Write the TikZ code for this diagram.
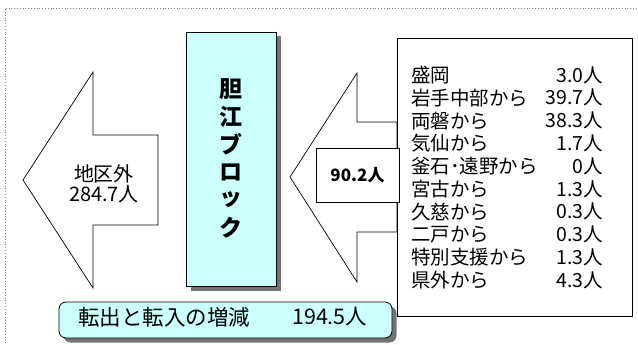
\documentclass[tikz,border=0pt]{standalone}
\usepackage{fontspec}
\newfontfamily\jp{Noto Sans CJK JP}
\definecolor{lcyan}{HTML}{CCFFFF}
\tikzset{
  outline/.style={draw=black, line width=0.7pt, fill=white, line join=miter},
  listtxt/.style={inner sep=0pt, font=\jp\fontsize{19.5}{20}\selectfont},
  bigtxt/.style={inner sep=0pt, font=\jp\fontsize{20}{21}\selectfont},
  blocktxt/.style={inner sep=0pt, font=\jp\bfseries\fontsize{23}{24}\selectfont},
  cyanbox/.style={draw=black, line width=0.8pt, fill=lcyan},
}
\begin{document}
\begin{tikzpicture}[x=1pt,y=-1pt]
\useasboundingbox (0,0) rectangle (638,345);
% dotted frame
\draw[black!50, dotted, line width=0.8pt] (5,360) -- (5,8) -- (636,8);
% left arrow
\draw[outline] (23,180) -- (93,72) -- (93,135) -- (158,135) -- (158,225) -- (93,225) -- (93,288) -- cycle;
\node[bigtxt] (chiku) at (104,174) {地区外};
\node[bigtxt] (chikuv) at (104,194) {284.7人};
% middle block
\fill[black!55] (190.5,36.5) rectangle (280.5,290.5);
\path[cyanbox] (186,32) rectangle (276,286);
\foreach \c [count=\i from 0] in {胆,江,ブ,ロ,ッ,ク}{
  \node[blocktxt] (blk\i) at (231,{89+27.8*\i}) {\c};
}
% right arrow
\draw[outline] (290,177) -- (357,73) -- (357,122) -- (397,122) -- (397,232) -- (357,232) -- (357,282) -- cycle;
% right list box
\draw[outline] (397,38) rectangle (632,316);
\node[draw=black, line width=0.7pt, fill=white, minimum width=83pt, minimum height=54pt, inner sep=0pt,
  font=\jp\bfseries\fontsize{17}{18}\selectfont] (inflow) at (357.5,175) {90.2人};
\foreach \a/\b [count=\i from 0] in {盛岡/3.0人, 岩手中部から/39.7人, 両磐から/38.3人, 気仙から/1.7人, 釜石･遠野から/0人, 宮古から/1.3人, 久慈から/0.3人, 二戸から/0.3人, 特別支援から/1.3人, 県外から/4.3人}{
  \node[listtxt, anchor=west] (la\i) at (411,{75+22.8*\i}) {\a};
  \node[listtxt, anchor=east] (lb\i) at (603,{75+22.8*\i}) {\b};
}
% bottom box
\fill[black!55, rounded corners=7pt] (63.5,306.5) rectangle (396.5,342.5);
\path[cyanbox, rounded corners=7pt] (59,302) rectangle (392,338);
\node[inner sep=0pt, anchor=west, font=\jp\fontsize{21.5}{22}\selectfont] (net) at (78,317) {転出と転入の増減};
\node[inner sep=0pt, anchor=west, font=\jp\fontsize{21.5}{22}\selectfont] (netv) at (292,317) {194.5人};
\end{tikzpicture}
\end{document}
